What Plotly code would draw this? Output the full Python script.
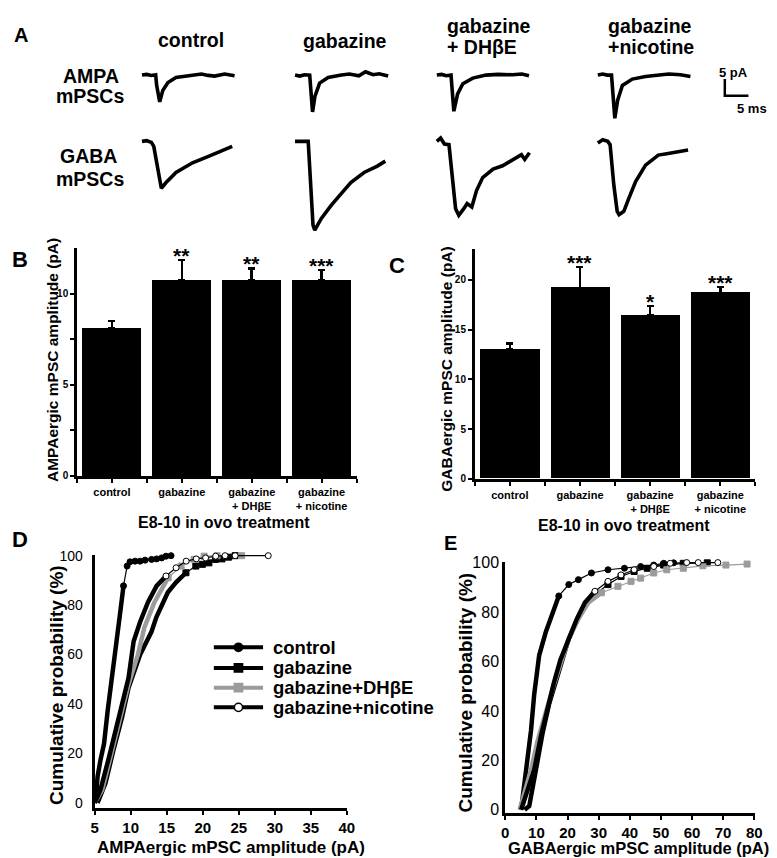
import plotly.graph_objects as go

W, H = 777, 858
FONT = "Liberation Sans, Arial, Helvetica, sans-serif"
BLACK = "#000000"
GRAY = "#9b9b9b"


def fx(p):
    return p / W


def fy(p):
    return 1 - p / H


# ======================= DATA =======================
conditions = ["control", "gabazine", "gabazine+DHβE", "gabazine+nicotine"]
a_col_headers = [["control"], ["gabazine"], ["gabazine", "+ DHβE"], ["gabazine", "+nicotine"]]
a_row_labels = [["AMPA", "mPSCs"], ["GABA", "mPSCs"]]

# Panel A: representative mPSC traces (time in ms, current in pA)
ampa_ctrl_t = [0, 1.0, 2.0, 2.9, 3.1, 3.75, 4.4, 5.5, 7.2, 9.8, 11.0, 12.6, 14.0, 15.4, 17.5, 19.6]
ampa_ctrl_i = [0, 0.2, -0.1, 0.1, -3.0, -8.0, -4.6, -2.2, -0.7, -0.3, 0.1, 0.3, -0.1, -0.3, 0.3, -0.2]
ampa_gbz_t = [0, 1.0, 2.0, 3.1, 3.7, 4.2, 5.2, 7.0, 9.8, 11.5, 13.5, 14.9, 16.5, 17.8, 19.7]
ampa_gbz_i = [0, -0.3, 0.1, 0, -11.0, -6.4, -2.4, -0.7, 0, 0.3, -0.2, 1.0, 0.1, 0.4, -0.3]
ampa_dhbe_t = [0, 1.0, 2.0, 3.0, 3.6, 4.4, 5.5, 7.6, 10.4, 13.0, 16.0, 18.0, 19.5]
ampa_dhbe_i = [0, 0.2, -0.2, 0, -10.8, -5.6, -2.6, -0.9, 0, 0.2, 0.1, 0.3, -0.2]
ampa_nic_t = [0, 1.0, 2.0, 2.9, 3.6, 4.2, 5.2, 7.3, 10.1, 12.5, 15.0, 17.5, 19.6]
ampa_nic_i = [0, 0.3, 0, 0, -12.9, -7.5, -3.1, -1.2, -0.4, 0, 0.3, 0.1, -0.4]

gaba_ctrl_t = [0, 1.0, 2.0, 2.5, 4.1, 5.1, 7.2, 10.7, 14.2, 17.0, 19.1]
gaba_ctrl_i = [0, 0.2, -0.3, -1.5, -14.0, -12.3, -9.3, -6.4, -4.4, -2.9, -1.5]
gaba_gbz_t = [0, 1.5, 2.78, 3.8, 4.17, 5.56, 7.64, 9.72, 11.8, 14.6, 17.4, 19.1]
gaba_gbz_i = [0, 0, 0, -25.0, -26.5, -23.0, -19.1, -15.7, -12.3, -9.3, -7.4, -5.9]
gaba_dhbe_t = [0, 0.8, 1.6, 2.57, 3.97, 4.65, 5.7, 6.4, 7.4, 8.4, 9.7, 11.9, 13.9, 16.0, 17.9, 18.6, 19.6]
gaba_dhbe_i = [0, 1.0, -0.8, -1.0, -20.1, -22.1, -20.1, -18.6, -19.6, -14.7, -10.8, -8.3, -7.3, -5.4, -4.0, -5.4, -3.4]
gaba_nic_t = [0, 1.04, 2.1, 2.6, 3.4, 4.1, 4.5, 5.5, 6.6, 8.0, 10.1, 11.5, 12.8, 14.9, 17.0, 19.1]
gaba_nic_i = [-0.5, 0.5, 0, -1.0, -13.2, -20.9, -21.9, -20.9, -16.9, -12.0, -7.1, -5.6, -4.1, -3.6, -3.1, -2.6]

scale_pA = 5
scale_ms = 5

# Panels B / C: mean amplitude +/- SEM
bar_labels = ["control", "gabazine", "gabazine<br>+ DHβE", "gabazine<br>+ nicotine"]
ampa_mean = [8.1, 10.75, 10.75, 10.75]
ampa_sem = [0.4, 1.1, 0.65, 0.55]
ampa_sig = ["", "**", "**", "***"]
gaba_mean = [13.0, 19.2, 16.4, 18.7]
gaba_sem = [0.6, 2.1, 1.0, 0.6]
gaba_sig = ["", "***", "*", "***"]

# Panel D: cumulative distributions of AMPAergic amplitudes (pA, %)
d_ctrl_x = [5.1, 5.4, 5.8, 6.3, 6.8, 7.4, 8.1, 8.55, 9.0, 9.5, 9.9, 10.6, 11.3, 12.0, 12.9, 13.6, 14.3, 14.9, 15.6]
d_ctrl_y = [0, 10.6, 17.3, 24.0, 37.3, 50.6, 63.9, 77.2, 87.8, 95.8, 97.5, 97.8, 97.8, 98.2, 98.5, 98.7, 99.1, 99.8, 100]
d_gbz_x = [5.4, 6.5, 7.6, 8.8, 9.7, 10.6, 11.3, 11.97, 12.88, 13.57, 14.25, 15.16, 16.3, 17.67, 19.04, 19.95, 20.86, 21.77, 22.68, 23.6, 24.5]
d_gbz_y = [0, 8.0, 21.3, 34.6, 46.6, 54.6, 59.9, 63.9, 69.2, 75.2, 79.8, 85.2, 89.2, 93.1, 95.8, 96.5, 97.1, 98.5, 98.7, 99.4, 100]
d_dhbe_x = [5.0, 6.05, 7.2, 8.4, 9.7, 11.0, 11.9, 13.3, 15.2, 17.0, 18.8, 20.2, 22.0, 25.4]
d_dhbe_y = [0, 5.3, 18.6, 33.3, 48.0, 60.0, 71.0, 81.2, 91.1, 95.8, 98.5, 99.8, 100, 100]
d_nic_x = [5.0, 5.8, 7.0, 8.1, 9.0, 9.7, 10.4, 11.3, 12.4, 13.6, 14.9, 16.3, 17.7, 19.1, 20.4, 21.8, 23.1, 24.5, 29.1]
d_nic_y = [0, 5.3, 18.6, 32.0, 42.6, 50.6, 65.3, 73.2, 81.2, 87.8, 91.8, 95.1, 97.8, 98.7, 99.1, 99.8, 100, 100, 100]

# Panel E: cumulative distributions of GABAergic amplitudes (pA, %)
e_ctrl_x = [5.1, 6.7, 8.26, 9.3, 10.9, 13.0, 15.1, 17.2, 20.4, 23.5, 27.7, 33.0, 38.3, 43.5, 47.7, 50.9, 54.1]
e_ctrl_y = [0, 16.1, 32.0, 46.6, 62.5, 71.8, 79.2, 86.5, 91.1, 93.1, 95.8, 97.1, 97.7, 98.4, 99.0, 99.7, 99.9]
e_gbz_x = [6.2, 7.7, 9.85, 11.95, 14.05, 16.2, 18.3, 20.4, 23.0, 25.6, 28.8, 33.0, 37.2, 41.4, 45.6, 50.9, 57.2, 64.9]
e_gbz_y = [0, 1.5, 16.1, 30.7, 42.6, 51.9, 61.2, 69.2, 76.5, 82.5, 87.1, 91.1, 94.4, 96.4, 97.7, 99.0, 99.7, 99.9]
e_dhbe_x = [4.6, 8.26, 10.4, 13.0, 15.6, 18.3, 20.4, 23.5, 26.7, 30.9, 36.2, 40.4, 43.5, 47.7, 51.9, 57.2, 63.5, 70.9, 77.7]
e_dhbe_y = [0, 16.1, 28.0, 40.0, 50.6, 61.2, 69.2, 77.2, 83.8, 87.8, 90.4, 92.4, 93.7, 95.8, 97.1, 97.7, 98.7, 99.0, 99.4]
e_nic_x = [5.1, 9.3, 11.4, 13.5, 15.6, 17.7, 20.4, 23.0, 25.6, 28.8, 33.0, 37.2, 41.4, 47.7, 53.0, 58.3, 62.0, 68.3]
e_nic_y = [0, 16.1, 29.4, 41.3, 51.3, 60.6, 69.2, 77.2, 83.8, 88.4, 92.4, 95.0, 97.1, 98.4, 99.7, 100, 100, 100]

# ======================= STYLE / LAYOUT CONSTANTS =======================
A_T0_PX = 132          # x pixel of t=0 of first column
MS_PX = 4.8            # pixels per ms
PA_PX = 3.4            # pixels per pA
A_BASE_PX = 61         # y pixel of AMPA baseline
a_col_px = [132, 287.5, 431.5, 595]
a_row_px = [61, 128.3]
a_col_off = [(c - A_T0_PX) / MS_PX for c in a_col_px]
a_row_off = [-(r - A_BASE_PX) / PA_PX for r in a_row_px]

series_color = [BLACK, BLACK, GRAY, BLACK]
series_fill = [BLACK, BLACK, GRAY, "white"]
series_symbol = ["circle", "square", "square", "circle"]

fig = go.Figure()

# ---------- Panel A traces ----------
a_traces = [
    [(ampa_ctrl_t, ampa_ctrl_i), (ampa_gbz_t, ampa_gbz_i), (ampa_dhbe_t, ampa_dhbe_i), (ampa_nic_t, ampa_nic_i)],
    [(gaba_ctrl_t, gaba_ctrl_i), (gaba_gbz_t, gaba_gbz_i), (gaba_dhbe_t, gaba_dhbe_i), (gaba_nic_t, gaba_nic_i)],
]
for r, row in enumerate(a_traces):
    for c, (tt, ii) in enumerate(row):
        fig.add_trace(go.Scatter(
            x=[t + a_col_off[c] for t in tt],
            y=[i + a_row_off[r] for i in ii],
            mode="lines", line=dict(color=BLACK, width=3.6),
            xaxis="x", yaxis="y", hoverinfo="skip"))

# scale bar
sb_t0 = (724 - A_T0_PX) / MS_PX
sb_i0 = -(82 - A_BASE_PX) / PA_PX
fig.add_trace(go.Scatter(
    x=[sb_t0, sb_t0, sb_t0 + scale_ms],
    y=[sb_i0 + scale_pA, sb_i0, sb_i0],
    mode="lines", line=dict(color=BLACK, width=2.5),
    xaxis="x", yaxis="y", hoverinfo="skip"))

# ---------- Panels B / C bars ----------
for means, sems, ax in [(ampa_mean, ampa_sem, "2"), (gaba_mean, gaba_sem, "3")]:
    fig.add_trace(go.Bar(
        x=list(range(len(means))), y=means, width=0.845,
        marker=dict(color=BLACK, line=dict(width=0)),
        error_y=dict(type="data", symmetric=False, array=sems,
                     arrayminus=[0] * len(sems), color=BLACK,
                     thickness=2.5, width=3.5),
        xaxis="x" + ax, yaxis="y" + ax))

# ---------- Panels D / E cumulative curves ----------
d_series = [(d_ctrl_x, d_ctrl_y), (d_gbz_x, d_gbz_y), (d_dhbe_x, d_dhbe_y), (d_nic_x, d_nic_y)]
e_series = [(e_ctrl_x, e_ctrl_y), (e_gbz_x, e_gbz_y), (e_dhbe_x, e_dhbe_y), (e_nic_x, e_nic_y)]
for series, ax, thr in [(d_series, "4", 95), (e_series, "5", 90)]:
    for k, (xs, ys) in enumerate(series):
        n_dense = sum(1 for v in ys if v <= thr)
        fig.add_trace(go.Scatter(
            x=xs[:n_dense], y=ys[:n_dense], mode="lines",
            line=dict(color=series_color[k], width=4.5),
            xaxis="x" + ax, yaxis="y" + ax, cliponaxis=False, hoverinfo="skip"))
        fig.add_trace(go.Scatter(
            x=xs[n_dense - 1:], y=ys[n_dense - 1:], mode="lines+markers",
            line=dict(color=series_color[k], width=1.2),
            marker=dict(symbol=series_symbol[k], size=6, color=series_fill[k],
                        line=dict(color=series_color[k], width=1)),
            xaxis="x" + ax, yaxis="y" + ax, cliponaxis=False, hoverinfo="skip"))

# ======================= ANNOTATIONS =======================
ann = []


def text(x, y, s, size, bold=True, angle=0, xanchor="center", yanchor="middle"):
    ann.append(dict(x=fx(x), y=fy(y), xref="paper", yref="paper", text=s,
                    showarrow=False, textangle=angle, xanchor=xanchor, yanchor=yanchor,
                    font=dict(family=FONT, size=size, color=BLACK,
                              weight="bold" if bold else "normal")))


# panel letters
text(9, 20, "A", 20)
text(8, 248, "B", 22)
text(391, 254, "C", 22)
text(8, 533, "D", 22)
text(445, 536, "E", 20)

# panel A headers
text(182, 25, a_col_headers[0][0], 19.5)
text(338, 26, a_col_headers[1][0], 19.5)
text(440, 11, a_col_headers[2][0], 19.5, xanchor="left")
text(440, 32, a_col_headers[2][1], 19.5, xanchor="left")
text(603, 11, a_col_headers[3][0], 19.5, xanchor="left")
text(603, 33, a_col_headers[3][1], 19.5, xanchor="left")
text(80, 62, a_row_labels[0][0], 19.5)
text(79, 82, a_row_labels[0][1], 19.5)
text(78, 143, a_row_labels[1][0], 19.5)
text(79, 167, a_row_labels[1][1], 19.5)
text(733, 58, f"{scale_pA} pA", 13)
text(752, 95, f"{scale_ms} ms", 13)

# B / C titles
text(41, 350, "AMPAergic mPSC amplitude (pA)", 15.5, angle=-90)
text(441, 360, "GABAergic mPSC amplitude (pA)", 15.5, angle=-90)
text(215, 515, "E8-10 in ovo treatment", 16)
text(622, 518, "E8-10 in ovo treatment", 16)

# D / E titles
text(222, 845, "AMPAergic mPSC amplitude (pA)", 17)
text(45, 680, "Cumulative probability (%)", 19, angle=-90)
text(636, 846, "GABAergic mPSC amplitude (pA)", 16.5)
text(461, 688, "Cumulative probability (%)", 19, angle=-90)

# significance stars
for means, sems, sigs, ax in [(ampa_mean, ampa_sem, ampa_sig, "2"), (gaba_mean, gaba_sem, gaba_sig, "3")]:
    for i, s in enumerate(sigs):
        if s:
            ann.append(dict(x=i, y=means[i] + sems[i], xref="x" + ax, yref="y" + ax,
                            text=s, showarrow=False, yanchor="bottom", yshift=-9,
                            font=dict(family=FONT, size=21, color=BLACK, weight="bold")))

# legend (panel D)
shapes = []
leg_y = [642, 663, 683, 703]
for k, name in enumerate(conditions):
    y = leg_y[k]
    shapes.append(dict(type="line", xref="paper", yref="paper", x0=fx(205), x1=fx(255),
                       y0=fy(y), y1=fy(y), line=dict(color=series_color[k], width=4)))
    r = 4.2
    shapes.append(dict(type="circle" if series_symbol[k] == "circle" else "rect",
                       xref="paper", yref="paper",
                       x0=fx(230 - r), x1=fx(230 + r), y0=fy(y + r), y1=fy(y - r),
                       fillcolor=series_fill[k], line=dict(color=series_color[k], width=1.5)))
    text(263, y, name, 18.5, xanchor="left")

# ======================= AXES =======================
hidden = dict(visible=False, showgrid=False, zeroline=False, fixedrange=True)
common = dict(showgrid=False, zeroline=False, showline=True, linecolor=BLACK, fixedrange=True)

bar_x = dict(common, range=[-0.5, 3.5], linewidth=2.5, ticks="outside", ticklen=4,
             tickwidth=2, tickcolor=BLACK, tickvals=[0, 1, 2, 3], ticktext=bar_labels,
             tickfont=dict(family=FONT, size=11, color=BLACK, weight="bold"),
             minor=dict(tickvals=[-0.5, 0.5, 1.5, 2.5, 3.5], ticks="outside", ticklen=4,
                        tickwidth=2, tickcolor=BLACK))
bar_yfont = dict(family=FONT, size=10, color=BLACK, weight="bold")

fig.update_layout(
    width=W, height=H, autosize=False,
    margin=dict(l=0, r=0, t=0, b=0),
    paper_bgcolor="white", plot_bgcolor="rgba(0,0,0,0)",
    showlegend=False, bargap=0,
    font=dict(family=FONT, color=BLACK),
    xaxis=dict(hidden, domain=[fx(100), 1],
               range=[(100 - A_T0_PX) / MS_PX, (W - A_T0_PX) / MS_PX]),
    yaxis=dict(hidden, domain=[fy(235), 1],
               range=[-(235 - A_BASE_PX) / PA_PX, A_BASE_PX / PA_PX]),
    xaxis2=dict(bar_x, domain=[fx(66), fx(350)], anchor="y2"),
    yaxis2=dict(common, domain=[fy(468), fy(237)], anchor="x2", range=[0, 12.5],
                linewidth=2.5, ticks="outside", ticklen=4, tickwidth=2, tickcolor=BLACK,
                tickvals=[0, 5, 10], tickfont=bar_yfont,
                minor=dict(tickvals=[2.5, 7.5], ticks="outside", ticklen=4,
                           tickwidth=2, tickcolor=BLACK)),
    xaxis3=dict(bar_x, domain=[fx(470), fx(755)], anchor="y3"),
    yaxis3=dict(common, domain=[fy(471), fy(238)], anchor="x3", range=[0, 23.07],
                linewidth=2.5, ticks="outside", ticklen=4, tickwidth=2, tickcolor=BLACK,
                tickvals=[0, 5, 10, 15, 20], tickfont=bar_yfont),
    xaxis4=dict(common, domain=[fx(84), fx(340)], anchor="y4", range=[5, 40],
                linewidth=3, ticks="outside", ticklen=4, tickwidth=2, tickcolor=BLACK,
                tickvals=[5, 10, 15, 20, 25, 30, 35, 40],
                tickfont=dict(family=FONT, size=15, color=BLACK, weight="bold")),
    yaxis4=dict(common, domain=[fy(805), fy(548)], anchor="x4", range=[-2, 100.4],
                linewidth=3, ticks="", tickvals=[0, 20, 40, 60, 80, 100], ticklabelstandoff=6,
                tickfont=dict(family=FONT, size=14, color=BLACK)),
    xaxis5=dict(common, domain=[fx(501), fx(755)], anchor="y5", range=[0, 80.35],
                linewidth=3, ticks="outside", ticklen=4, tickwidth=2, tickcolor=BLACK,
                tickvals=[0, 10, 20, 30, 40, 50, 60, 70, 80],
                tickfont=dict(family=FONT, size=15, color=BLACK, weight="bold")),
    yaxis5=dict(common, domain=[fy(810), fy(555)], anchor="x5", range=[-1.2, 100.4],
                linewidth=3, ticks="", tickvals=[0, 20, 40, 60, 80, 100],
                tickfont=dict(family=FONT, size=16, color=BLACK)),
    annotations=ann,
    shapes=shapes,
)

fig.write_html("out.html")
